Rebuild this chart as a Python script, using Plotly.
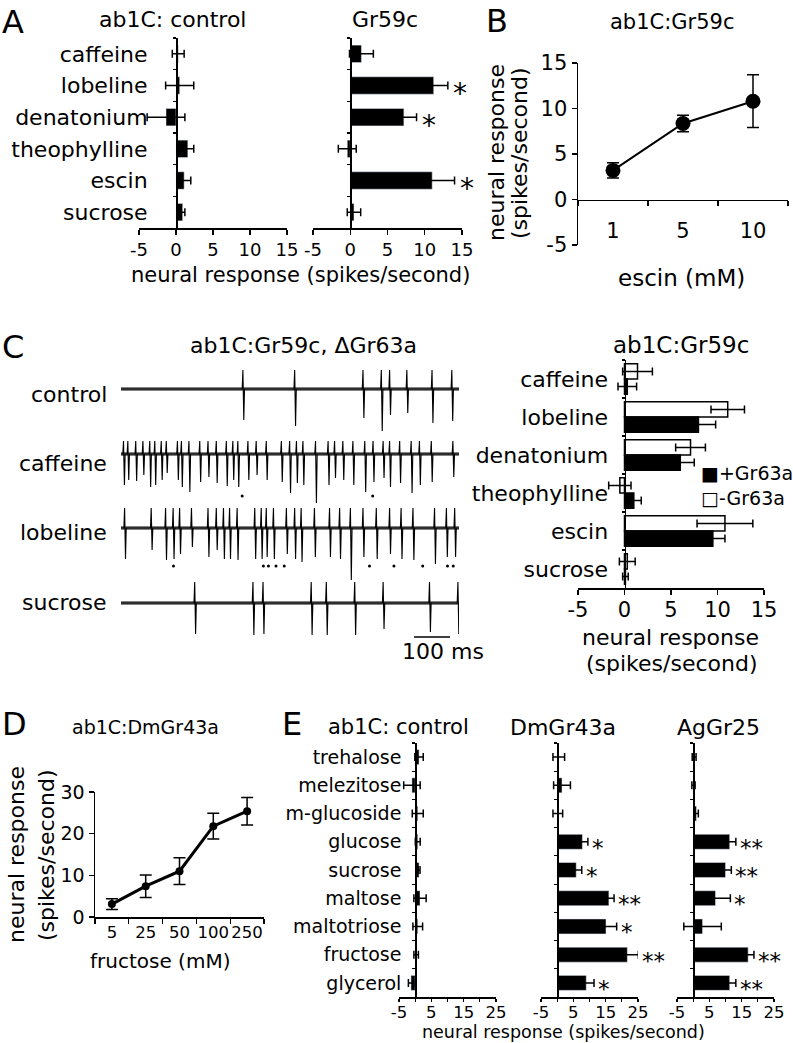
import plotly.graph_objects as go

W, H = 793, 1043
FONT = "DejaVu Sans"

# ------------------------------------------------------------------ data
# Panel A
a_categories = ["caffeine", "lobeline", "denatonium", "theophylline", "escin", "sucrose"]
a_control_vals = [0.3, 0.5, -1.35, 1.6, 1.1, 0.9]
a_control_errs = [0.8, 1.9, 2.55, 0.8, 0.9, 0.3]
a_gr59c_vals = [1.5, 11.2, 7.2, -0.4, 11.0, 0.5]
a_gr59c_errs = [1.6, 1.9, 1.7, 1.2, 3.0, 0.9]
a_gr59c_sig = ["", "*", "*", "", "*", ""]
a_ticks = [-5, 0, 5, 10, 15]
a_ticktext = ["-5", "0", "5", "10", "15"]

# Panel B
b_escin_mM = ["1", "5", "10"]
b_vals = [3.2, 8.35, 10.8]
b_errs = [0.85, 0.9, 2.9]
b_ticks = [-5, 0, 5, 10, 15]
b_ticktext = ["-5", "0", "5", "10", "15"]

# Panel C (recordings): spike times (ms) and downward deflections (px)
c_conditions = ["control", "caffeine", "lobeline", "sucrose"]
c_spike_ms = {
    "control": [340, 484, 674, 725, 748, 796, 866, 921],
    "caffeine": [8, 20, 42, 62, 81, 95, 113, 127, 158, 169, 190, 220, 243, 266, 294, 312, 326,
                 354, 377, 405, 447, 470, 489, 507, 542, 577, 595, 618, 646, 679, 702, 730,
                 748, 776, 808, 831, 864, 924],
    "lobeline": [11, 85, 125, 146, 164, 197, 243, 266, 286, 303, 324, 373, 391, 405, 425, 461,
                 484, 502, 539, 581, 609, 639, 674, 711, 748, 780, 813, 873, 906, 929],
    "sucrose": [206, 368, 396, 530, 572, 651, 730, 859, 938],
}
c_spike_down = {
    "control": [31, 37, 29, 42, 26, 24, 34, 32],
    "caffeine": [31, 26, 27, 21, 33, 31, 26, 19, 26, 33, 38, 28, 23, 29, 32, 26, 33, 26, 21, 26,
                 28, 39, 29, 31, 49, 31, 24, 26, 31, 38, 28, 24, 33, 29, 39, 31, 28, 23],
    "lobeline": [31, 22, 32, 31, 26, 19, 29, 22, 31, 31, 32, 31, 31, 29, 31, 26, 31, 34, 29, 29,
                 31, 52, 29, 31, 26, 31, 32, 36, 29, 29],
    "sucrose": [31, 32, 31, 32, 32, 32, 26, 29, 31],
}
c_spike_up = {"control": 19, "caffeine": 13, "lobeline": 20, "sucrose": 21}
c_dot_ms = {
    "caffeine": [337, 700],
    "lobeline": [146, 396, 410, 431, 454, 691, 759, 839, 908, 924],
}
c_duration_ms = 940
c_scalebar_ms = 100
c_scalebar_start_ms = 815

# Panel C (bars)
c_bar_categories = ["caffeine", "lobeline", "denatonium", "theophylline", "escin", "sucrose"]
c_plus_vals = [0.3, 7.95, 6.0, 1.0, 9.5, 0.1]
c_plus_errs = [1.0, 1.85, 1.5, 0.8, 1.3, 0.3]
c_minus_vals = [1.4, 11.1, 7.1, -0.5, 10.8, 0.3]
c_minus_errs = [1.6, 1.8, 1.6, 1.2, 3.0, 0.85]

# Panel D
d_fructose_mM = ["5", "25", "50", "100", "250"]
d_vals = [3.1, 7.4, 11.0, 21.8, 25.4]
d_errs = [1.3, 2.7, 3.2, 3.1, 3.3]

# Panel E
e_categories = ["trehalose", "melezitose", "m-glucoside", "glucose", "sucrose",
                "maltose", "maltotriose", "fructose", "glycerol"]
e_control_vals = [1.2, -1.0, 0.8, 0.8, 1.2, 1.5, 0.8, 0.3, -1.3]
e_control_errs = [1.3, 2.55, 1.7, 0.75, 0.3, 1.9, 1.5, 0.7, 0.8]
e_dm_vals = [0.5, 1.5, 0.2, 7.8, 5.9, 16.0, 15.1, 21.7, 9.0]
e_dm_errs = [1.8, 2.6, 1.5, 1.7, 1.7, 1.6, 3.3, 3.4, 2.4]
e_dm_sig = ["", "", "", "*", "*", "**", "*", "**", "*"]
e_ag_vals = [0.3, 0.1, 1.0, 11.3, 10.0, 6.9, 2.9, 17.0, 11.3]
e_ag_errs = [0.6, 0.5, 0.6, 1.9, 1.8, 4.6, 5.8, 1.8, 1.9]
e_ag_sig = ["", "", "", "**", "**", "*", "", "**", "**"]
e_ticks = [-5, 0, 5, 10, 15, 20, 25]
e_ticktext = ["-5", "", "5", "", "15", "", "25"]

# ------------------------------------------------------------------ helpers
def dx(p0, p1):
    return [p0 / W, p1 / W]


def dy(top, bot):
    return [1 - bot / H, 1 - top / H]


def to_paper(dom, rng, v):
    return dom[0] + (v - rng[0]) / (rng[1] - rng[0]) * (dom[1] - dom[0])


def ann(text, xpx, ypx, size, xanchor="center", yanchor="middle", angle=0):
    return dict(text=text, x=xpx / W, y=1 - ypx / H, xref="paper", yref="paper",
                showarrow=False, xanchor=xanchor, yanchor=yanchor, textangle=angle,
                font=dict(size=size, family=FONT, color="black"))


LINE = dict(showline=True, linecolor="black", linewidth=1.5, showgrid=False,
            zeroline=False, ticks="outside", tickcolor="black", tickwidth=1.2,
            automargin=False, tickangle=0)
ERR = dict(type="data", color="black", thickness=1.5, width=4)

fig = go.Figure()
annotations = []
shapes = []

# ------------------------------------------------------------------ panel A
A_ydom = dy(38, 228)
A1_xdom, A2_xdom = dx(139, 287), dx(313, 462)
A_rng = [-5, 15]
fig.add_trace(go.Bar(y=a_categories, x=a_control_vals, orientation="h", width=0.55,
                     marker=dict(color="black"), error_x=dict(array=a_control_errs, **ERR),
                     xaxis="x", yaxis="y"))
fig.add_trace(go.Bar(y=a_categories, x=a_gr59c_vals, orientation="h", width=0.55,
                     marker=dict(color="black"), error_x=dict(array=a_gr59c_errs, **ERR),
                     xaxis="x2", yaxis="y2"))
for cat, v, e, s in zip(a_categories, a_gr59c_vals, a_gr59c_errs, a_gr59c_sig):
    if s:
        annotations.append(dict(text=s, x=to_paper(A2_xdom, A_rng, v + e), y=cat,
                                xref="paper", yref="y2", showarrow=False,
                                xanchor="left", xshift=3, yshift=-8,
                                font=dict(size=28, family=FONT, color="black")))

# ------------------------------------------------------------------ panel B
B_xdom, B_ydom, B_rng = dx(578, 788), dy(63, 245), [-5, 15]
fig.add_trace(go.Scatter(x=b_escin_mM, y=b_vals, mode="lines+markers",
                         line=dict(color="black", width=2),
                         marker=dict(color="black", size=15),
                         error_y=dict(array=b_errs, type="data", color="black",
                                      thickness=1.5, width=6),
                         xaxis="x3", yaxis="y3"))

# ------------------------------------------------------------------ panel C traces
C_base_px = {"control": 389, "caffeine": 454, "lobeline": 528, "sucrose": 603}
C_dot_offset = {"caffeine": 42, "lobeline": 38}
for cond in c_conditions:
    base = C_base_px[cond]
    fig.add_trace(go.Scatter(x=[0, c_duration_ms], y=[base, base], mode="lines",
                             line=dict(color="#5a5a5a", width=3.5), xaxis="x4", yaxis="y4",
                             hoverinfo="skip"))
    xs, ys = [0], [base]
    for t, d in zip(c_spike_ms[cond], c_spike_down[cond]):
        xs += [t - 3, t - 1, t + 1.5, t + 3.5]
        ys += [base, base - c_spike_up[cond], base + d, base]
    xs.append(c_duration_ms)
    ys.append(base)
    fig.add_trace(go.Scatter(x=xs, y=ys, mode="lines", line=dict(color="black", width=1.1),
                             xaxis="x4", yaxis="y4"))
    if cond in c_dot_ms:
        fig.add_trace(go.Scatter(x=c_dot_ms[cond], y=[base + C_dot_offset[cond]] * len(c_dot_ms[cond]),
                                 mode="markers", marker=dict(color="black", size=3),
                                 xaxis="x4", yaxis="y4"))
shapes.append(dict(type="line", xref="x4", yref="y4", x0=c_scalebar_start_ms,
                   x1=c_scalebar_start_ms + c_scalebar_ms, y0=637, y1=637,
                   line=dict(color="black", width=1.5)))
annotations.append(dict(text="100 ms", x=c_scalebar_start_ms + c_scalebar_ms / 2, y=651,
                        xref="x4", yref="y4", showarrow=False, xshift=11,
                        font=dict(size=22, family=FONT, color="black")))

# ------------------------------------------------------------------ panel C bars
C_xdom, C_ydom, C_rng = dx(578, 764), dy(360, 588), [-5, 15]
fig.add_trace(go.Bar(y=c_bar_categories, x=c_minus_vals, orientation="h", width=0.4, offset=-0.4,
                     marker=dict(color="white", line=dict(color="black", width=1.5)),
                     error_x=dict(array=c_minus_errs, **ERR), xaxis="x5", yaxis="y5",
                     name="-Gr63a"))
fig.add_trace(go.Bar(y=c_bar_categories, x=c_plus_vals, orientation="h", width=0.4, offset=0,
                     marker=dict(color="black", line=dict(color="black", width=1.5)),
                     error_x=dict(array=c_plus_errs, **ERR), xaxis="x5", yaxis="y5",
                     name="+Gr63a"))

# ------------------------------------------------------------------ panel D
D_xdom, D_ydom = dx(95, 264), dy(792, 917)
fig.add_trace(go.Scatter(x=d_fructose_mM, y=d_vals, mode="lines+markers",
                         line=dict(color="black", width=3),
                         marker=dict(color="black", size=8),
                         error_y=dict(array=d_errs, type="data", color="black",
                                      thickness=1.5, width=6),
                         xaxis="x6", yaxis="y6"))

# ------------------------------------------------------------------ panel E
E_ydom, E_rng = dy(743, 997), [-5, 25]
E_xdoms = [dx(399, 496), dx(541, 638), dx(677, 774)]
e_sets = [(e_control_vals, e_control_errs, None),
          (e_dm_vals, e_dm_errs, e_dm_sig),
          (e_ag_vals, e_ag_errs, e_ag_sig)]
for i, (vals, errs, sig) in enumerate(e_sets):
    xa, ya = "x%d" % (7 + i), "y%d" % (7 + i)
    fig.add_trace(go.Bar(y=e_categories, x=vals, orientation="h", width=0.53,
                         marker=dict(color="black"), error_x=dict(array=errs, **ERR),
                         xaxis=xa, yaxis=ya))
    if sig:
        for cat, v, e, s in zip(e_categories, vals, errs, sig):
            if s:
                annotations.append(dict(text=s, x=to_paper(E_xdoms[i], E_rng, v + e), y=cat,
                                        xref="paper", yref=ya,
                                        showarrow=False, xanchor="left", xshift=2, yshift=-6,
                                        font=dict(size=23, family=FONT, color="black")))

# ------------------------------------------------------------------ layout axes
lay = dict(
    xaxis=dict(domain=A1_xdom, range=A_rng, tickvals=a_ticks, ticktext=a_ticktext, ticklen=5,
               anchor="y", tickfont=dict(size=18), **LINE),
    yaxis=dict(domain=A_ydom, type="category", autorange="reversed", anchor="free",
               position=to_paper(A1_xdom, A_rng, 0), ticklen=3, tickson="boundaries",
               tickfont=dict(size=22), ticklabelstandoff=24, **LINE),
    xaxis2=dict(domain=A2_xdom, range=A_rng, tickvals=a_ticks, ticktext=a_ticktext, ticklen=5,
                anchor="y2", tickfont=dict(size=18), **LINE),
    yaxis2=dict(domain=A_ydom, type="category", autorange="reversed", anchor="free",
                position=to_paper(A2_xdom, A_rng, 0), ticklen=3, tickson="boundaries",
                showticklabels=False, **LINE),
    xaxis3=dict(domain=B_xdom, type="category", range=[-0.5, 2.5], anchor="free",
                position=to_paper(B_ydom, B_rng, 0), tickson="boundaries", ticklen=5,
                tickfont=dict(size=21), ticklabelstandoff=12, **LINE),
    yaxis3=dict(domain=B_ydom, range=B_rng, tickvals=b_ticks, ticktext=b_ticktext, ticklen=5,
                anchor="x3", tickfont=dict(size=21), **LINE),
    xaxis4=dict(domain=dx(121, 459), range=[0, c_duration_ms], visible=False),
    yaxis4=dict(domain=dy(360, 660), range=[660, 360], visible=False),
    xaxis5=dict(domain=C_xdom, range=C_rng, tickvals=a_ticks, ticktext=a_ticktext, ticklen=5,
                anchor="y5", tickfont=dict(size=21), ticklabelstandoff=-3, **LINE),
    yaxis5=dict(domain=C_ydom, type="category", autorange="reversed", anchor="free",
                position=to_paper(C_xdom, C_rng, 0), ticklen=3, tickson="boundaries",
                tickfont=dict(size=22), ticklabelstandoff=12, **LINE),
    xaxis6=dict(domain=D_xdom, type="category", range=[-0.5, 4.5], anchor="y6",
                tickson="boundaries", ticklen=5, tickfont=dict(size=16.5), **LINE),
    yaxis6=dict(domain=D_ydom, range=[0, 30], dtick=10, ticklen=5, anchor="x6",
                tickfont=dict(size=19), **LINE),
)
for i, xd in enumerate(E_xdoms):
    n = 7 + i
    lay["xaxis%d" % n] = dict(domain=xd, range=E_rng, tickvals=e_ticks, ticktext=e_ticktext,
                              ticklen=3, anchor="y%d" % n, tickfont=dict(size=16.5),
                              ticklabelstandoff=-3, **LINE)
    yd = dict(domain=E_ydom, type="category", autorange="reversed", anchor="free",
              position=to_paper(xd, E_rng, 0), ticklen=3, tickson="boundaries", **LINE)
    if i == 0:
        yd.update(tickfont=dict(size=19), ticklabelstandoff=10)
    else:
        yd.update(showticklabels=False)
    lay["yaxis%d" % n] = yd

# ------------------------------------------------------------------ text
annotations += [
    ann("A", 0, 22, 32, xanchor="left"),
    ann("ab1C: control", 172, 20, 22),
    ann("Gr59c", 385, 20, 22),
    ann("neural response (spikes/second)", 300, 275, 21),
    ann("B", 484, 21, 32, xanchor="left"),
    ann("ab1C:Gr59c", 672, 22, 21),
    ann("neural response", 496, 153, 22, angle=-90),
    ann("(spikes/second)", 519, 153, 22, angle=-90),
    ann("escin (mM)", 681, 278, 23),
    ann("C", 0, 347, 32, xanchor="left"),
    ann("ab1C:Gr59c, ΔGr63a", 303, 345, 22),
    ann("control", 109, 395, 22, xanchor="right"),
    ann("caffeine", 109, 463, 22, xanchor="right"),
    ann("lobeline", 109, 532, 22, xanchor="right"),
    ann("sucrose", 109, 602, 22, xanchor="right"),
    ann("ab1C:Gr59c", 681, 345, 23),
    ann("■+Gr63a", 699, 473, 19, xanchor="left"),
    ann("□-Gr63a", 699, 498, 19, xanchor="left"),
    ann("neural response", 670, 637, 22),
    ann("(spikes/second)", 672, 663, 22),
    ann("D", 0, 724, 32, xanchor="left"),
    ann("ab1C:DmGr43a", 145, 727, 19),
    ann("neural response", 16, 855, 22, angle=-90),
    ann("(spikes/second)", 46, 855, 22, angle=-90),
    ann("fructose (mM)", 160, 961, 20),
    ann("E", 280, 724, 32, xanchor="left"),
    ann("ab1C: control", 398, 727, 21),
    ann("DmGr43a", 563, 727, 22),
    ann("AgGr25", 718, 727, 22),
    ann("neural response (spikes/second)", 563, 1032, 17.5),
]

fig.update_layout(
    width=W, height=H, autosize=False,
    margin=dict(l=0, r=0, t=0, b=0, autoexpand=False),
    paper_bgcolor="white", plot_bgcolor="white",
    showlegend=False, barmode="overlay",
    font=dict(family=FONT, color="black"),
    annotations=annotations, shapes=shapes,
    **lay,
)

fig.write_html("out.html", config={"displayModeBar": False, "staticPlot": True},
               post_script="document.body.style.margin='0px';"
                           "document.body.style.padding='0px';"
                           "document.documentElement.style.overflow='hidden';")
